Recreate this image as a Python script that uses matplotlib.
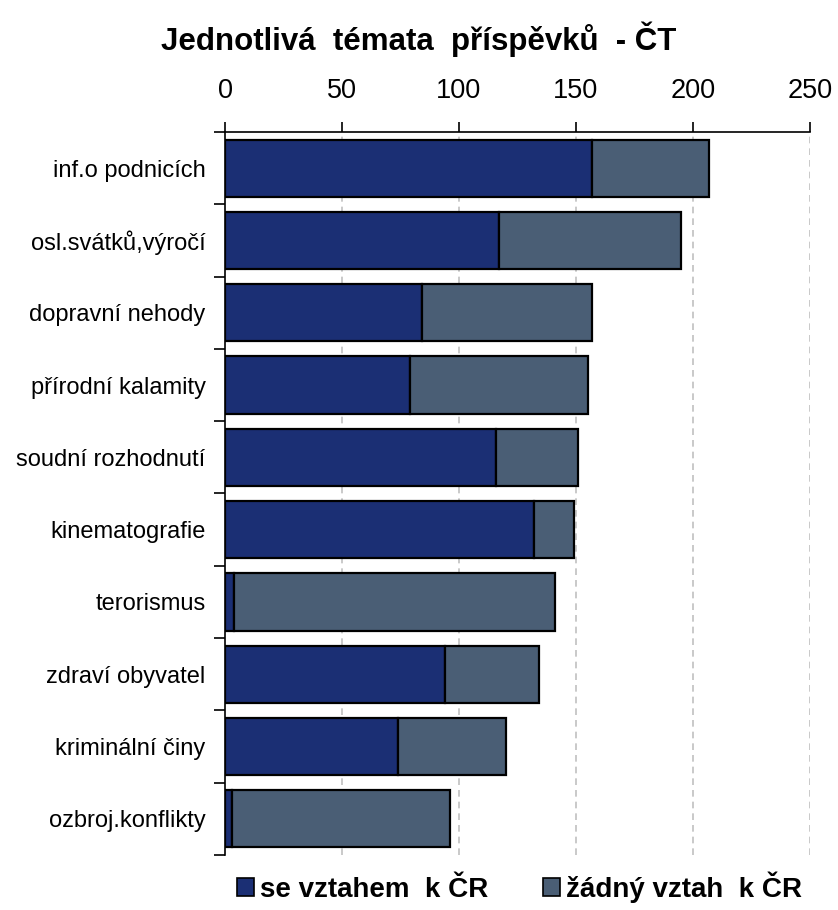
import matplotlib.pyplot as plt
import numpy as np
from matplotlib.patches import Patch

plt.rcParams['font.family'] = ['Liberation Sans', 'DejaVu Sans']

# data
temata = ['inf.o podnicích', 'osl.svátků,výročí', 'dopravní nehody',
          'přírodní kalamity', 'soudní rozhodnutí', 'kinematografie',
          'terorismus', 'zdraví obyvatel', 'kriminální činy',
          'ozbroj.konflikty']
se_vztahem = [157, 117, 84, 79, 116, 132, 4, 94, 74, 3]
bez_vztahu = [50, 78, 73, 76, 35, 17, 137, 40, 46, 93]

c_blue = '#1b2f74'
c_gray = '#4a5e75'

fig = plt.figure(figsize=(8.38, 9.10), dpi=100)
ax = fig.add_axes([0.2685, 0.0604, 0.698, 0.7946])

y = np.arange(len(temata))
ax.barh(y, se_vztahem, height=0.79, color=c_blue, edgecolor='black',
        linewidth=1.6, zorder=3)
ax.barh(y, bez_vztahu, left=se_vztahem, height=0.79, color=c_gray,
        edgecolor='black', linewidth=1.6, zorder=3)

ax.set_xlim(0, 250)
ax.set_ylim(len(temata) - 0.5, -0.5)

# x axis on top
ax.xaxis.tick_top()
ax.set_xticks([0, 50, 100, 150, 200, 250])
ax.tick_params(axis='x', labelsize=19.5, length=7, width=1.2, pad=13,
               direction='out')
for v in [50, 100, 150, 200, 250]:
    ax.axvline(v, color='#c0c0c0', linestyle=(0, (4, 3)), linewidth=1.2,
               zorder=1)

# categories, ticks between them
ax.set_yticks(y)
ax.set_yticklabels(temata, fontsize=17)
ax.set_yticks(np.arange(len(temata) + 1) - 0.5, minor=True)
ax.tick_params(axis='y', which='major', length=0, pad=14)
ax.tick_params(axis='y', which='minor', length=8, width=1.2)

ax.spines['right'].set_visible(False)
ax.spines['bottom'].set_visible(False)
ax.spines['left'].set_linewidth(1.2)
ax.spines['top'].set_linewidth(1.2)

fig.suptitle('Jednotlivá  témata  příspěvků  - ČT', fontsize=22.5,
             fontweight='bold', y=0.976)

handles = [Patch(facecolor=c_blue, edgecolor='black', linewidth=1.2),
           Patch(facecolor=c_gray, edgecolor='black', linewidth=1.2)]
fig.legend(handles, ['se vztahem  k ČR', 'žádný vztah  k ČR'],
           loc='center', bbox_to_anchor=(0.62, 0.025), ncol=2, frameon=False,
           prop={'size': 20, 'weight': 'bold'}, handlelength=0.6,
           handleheight=0.6, handletextpad=0.2, columnspacing=2.0)

fig.savefig('out.png', dpi=100)
